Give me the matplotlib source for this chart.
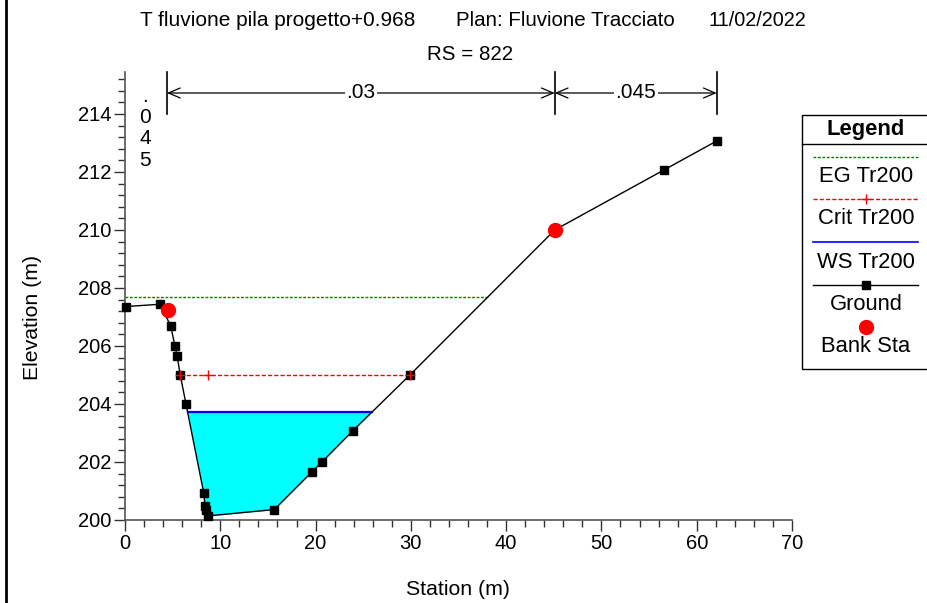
import numpy as np
import matplotlib
matplotlib.use('Agg')
import matplotlib.pyplot as plt
from matplotlib.lines import Line2D
from matplotlib.patches import Rectangle

plt.rcParams['font.family'] = ['Liberation Sans', 'DejaVu Sans']

# ground profile
station = [0.1, 3.67, 4.8, 5.25, 5.46, 5.8, 6.4, 8.26, 8.4, 8.5, 8.68,
           15.67, 19.65, 20.7, 23.92, 29.9, 45.1, 56.56, 62.1]
ground = [207.36, 207.44, 206.69, 205.99, 205.67, 205.0, 204.0, 200.94, 200.48,
          200.34, 200.14, 200.36, 201.67, 202.01, 203.08, 205.0, 210.0, 212.07, 213.07]

bank_sta = [4.48, 45.1]
bank_elev = [207.24, 210.0]

ws_elev = 203.72
eg_elev = 207.69
crit_elev = 205.0
crit_sta = [5.8, 8.68, 29.9]

n_breaks = [4.4, 45.1, 62.1]
n_values = ['.045', '.03', '.045']

title_parts = ['T fluvione pila progetto+0.968', 'Plan: Fluvione Tracciato', '11/02/2022']
subtitle = 'RS = 822'

W, H = 928, 603
fig = plt.figure(figsize=(W / 100, H / 100), dpi=100)
ax = fig.add_axes([125 / W, 1 - 520 / H, (792 - 125) / W, (520 - 72) / H])

st = np.array(station)
gr = np.array(ground)


def crossing(level, side):
    # station where the ground crosses a level, searching out from the deepest point
    i0 = int(np.argmin(gr))
    rng = range(i0, 0, -1) if side == 'left' else range(i0, len(gr) - 1)
    for i in rng:
        j = i - 1 if side == 'left' else i + 1
        if (gr[i] - level) * (gr[j] - level) <= 0:
            return st[i] + (level - gr[i]) / (gr[j] - gr[i]) * (st[j] - st[i])
    return st[0] if side == 'left' else st[-1]


def py2y(p):
    # pixel row -> elevation
    return 200 + (520 - p) / 29


# water fill
xs = np.linspace(st[0], st[-1], 4000)
gi = np.interp(xs, st, gr)
ax.fill_between(xs, gi, ws_elev, where=gi < ws_elev, color='#00FFFF', lw=0, zorder=1)

# EG line
eg_r = crossing(eg_elev, 'right')
ax.plot([0, eg_r], [eg_elev, eg_elev], color='#008000', ls=(0, (2, 1.2)), lw=1, zorder=2)

# crit line
ax.plot([crit_sta[0], crit_sta[-1]], [crit_elev] * 2, color='#FF0000', ls=(0, (3, 1.5)), lw=1, zorder=2)
ax.plot(crit_sta, [crit_elev] * len(crit_sta), ls='none', marker='+', color='#FF0000', ms=7, mew=1, zorder=5)

# WS line
ax.plot([crossing(ws_elev, 'left'), crossing(ws_elev, 'right')], [ws_elev] * 2,
        color='#0000FF', lw=1.6, zorder=3)

# ground
ax.plot(station, ground, color='black', lw=1, marker='s', ms=6, zorder=4, clip_on=False)
ax.plot(bank_sta, bank_elev, ls='none', marker='o', color='#FF0000', ms=10, zorder=6, clip_on=False)

ax.set_xlim(0, 70)
ax.set_ylim(200, py2y(72))
ax.set_xticks(np.arange(0, 71, 10))
ax.set_xticks(np.arange(0, 71, 2), minor=True)
ax.set_yticks(np.arange(200, 215, 2))
ax.set_yticks(np.arange(200, 215.3, 0.4), minor=True)
for s in ['top', 'right']:
    ax.spines[s].set_visible(False)
for s in ['left', 'bottom']:
    ax.spines[s].set_color('#555555')
    ax.spines[s].set_linewidth(1.2)
ax.tick_params(which='major', length=8, width=1, labelsize=14.5, color='#333333', pad=2)
ax.tick_params(which='minor', length=5, width=1, color='#333333')
ax.set_xlabel('Station (m)', fontsize=15.3)
ax.set_ylabel('Elevation (m)', fontsize=15.3)
ax.xaxis.set_label_coords(0.5, -0.134)
ax.yaxis.set_label_coords(-0.124, 0.453)

# manning n regions
ytop = ax.get_ylim()[1]
ybot = py2y(114)
yarr = py2y(93)
for xb in n_breaks:
    ax.plot([xb, xb], [ybot, ytop], color='black', lw=1.2, clip_on=False, zorder=7)
for a, b, lab in zip(n_breaks[:-1], n_breaks[1:], n_values[1:]):
    ax.annotate('', xy=(a, yarr), xytext=(b, yarr),
                arrowprops=dict(arrowstyle='<->, head_length=0.7, head_width=0.3', lw=0.9,
                                color='black', mutation_scale=12, shrinkA=0, shrinkB=0))
    ax.text((a + b) / 2, yarr, lab, ha='center', va='center', fontsize=15,
            bbox=dict(fc='white', ec='none', pad=1), zorder=8)
for ch, pb in zip(n_values[0], [102, 123, 144, 166]):
    ax.text(2.1, py2y(pb), ch, ha='center', va='baseline', fontsize=15)

# titles
fig.text(140 / W, 1 - 20 / H, title_parts[0], ha='left', va='center', fontsize=15)
fig.text(456 / W, 1 - 20 / H, title_parts[1], ha='left', va='center', fontsize=14.8)
fig.text(708 / W, 1 - 20 / H, title_parts[2], ha='left', va='center', fontsize=14.3)
fig.text(470 / W, 1 - 55 / H, subtitle, ha='center', va='center', fontsize=14.8)

# left frame line
fig.add_artist(Line2D([6 / W, 6 / W], [0, 1], transform=fig.transFigure, color='black', lw=2))


# legend box
def fx(p):
    return p / W


def fy(p):
    return 1 - p / H


fs_leg = 15.8
fig.add_artist(Rectangle((fx(802), fy(369)), fx(140), (369 - 115) / H, transform=fig.transFigure,
                         fc='white', ec='black', lw=1))
fig.add_artist(Line2D([fx(802), fx(940)], [fy(144), fy(144)], transform=fig.transFigure,
                      color='black', lw=1))
fig.text(fx(866), fy(129), 'Legend', ha='center', va='center', fontsize=fs_leg, weight='bold')
lx = [fx(813), fx(918)]
fig.add_artist(Line2D(lx, [fy(157)] * 2, transform=fig.transFigure, color='#008000',
                      ls=(0, (2, 1.2)), lw=1))
fig.text(fx(866), fy(177), 'EG Tr200', ha='center', va='center', fontsize=fs_leg)
fig.add_artist(Line2D(lx, [fy(199)] * 2, transform=fig.transFigure, color='#FF0000',
                      ls=(0, (3, 1.5)), lw=1))
fig.add_artist(Line2D([fx(866)], [fy(199)], transform=fig.transFigure, color='#FF0000',
                      marker='+', ms=7))
fig.text(fx(866), fy(219), 'Crit Tr200', ha='center', va='center', fontsize=fs_leg)
fig.add_artist(Line2D(lx, [fy(242)] * 2, transform=fig.transFigure, color='#0000FF', lw=1.2))
fig.text(fx(866), fy(262), 'WS Tr200', ha='center', va='center', fontsize=fs_leg)
fig.add_artist(Line2D(lx, [fy(285)] * 2, transform=fig.transFigure, color='black', lw=1))
fig.add_artist(Line2D([fx(866)], [fy(285)], transform=fig.transFigure, color='black',
                      marker='s', ms=6))
fig.text(fx(866), fy(304), 'Ground', ha='center', va='center', fontsize=fs_leg)
fig.add_artist(Line2D([fx(866)], [fy(327)], transform=fig.transFigure, color='#FF0000',
                      marker='o', ms=10))
fig.text(fx(866), fy(347), 'Bank Sta', ha='center', va='center', fontsize=fs_leg)

fig.savefig('out.png', dpi=100)
